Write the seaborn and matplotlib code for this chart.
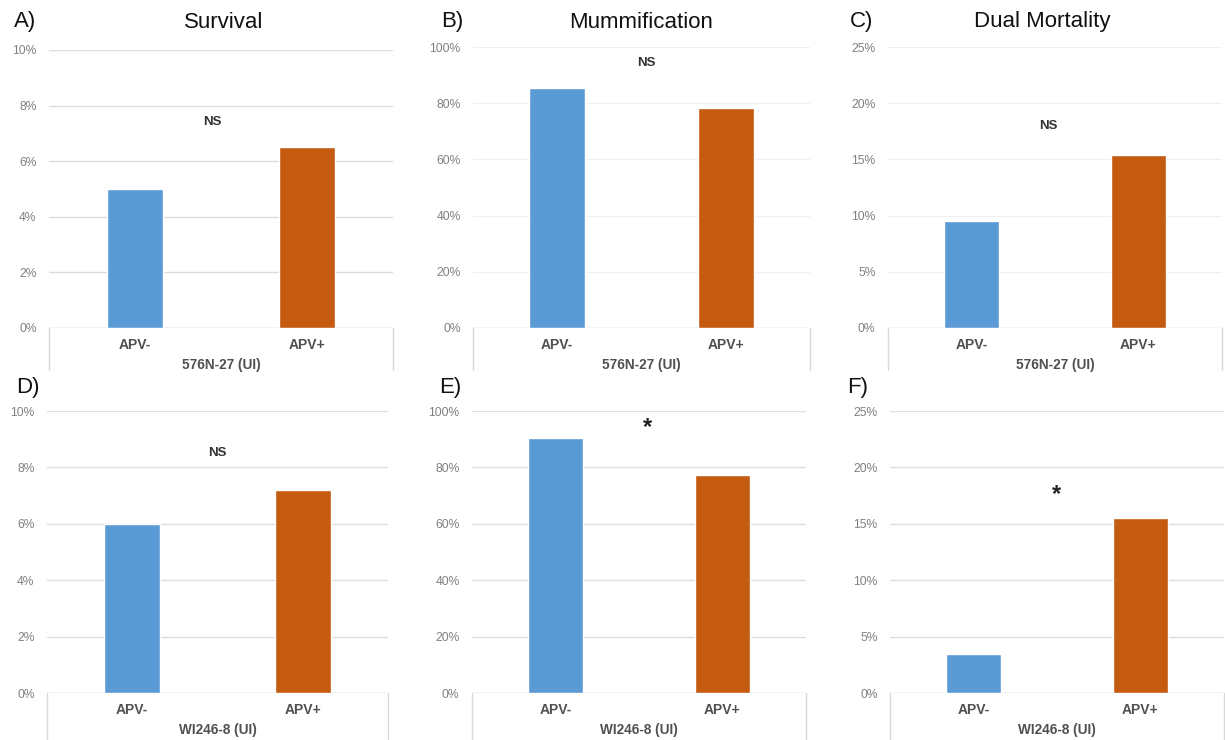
import matplotlib
matplotlib.use("Agg")
import matplotlib.pyplot as plt
import seaborn as sns
import pandas as pd

sns.set_theme(style="white")
plt.rcParams['font.family'] = ['Liberation Sans', 'DejaVu Sans']

categories = ["APV-", "APV+"]
survival_576 = [5.0, 6.5]
mumm_576 = [85.5, 78.2]
dual_576 = [9.5, 15.4]
survival_wi = [6.0, 7.2]
mumm_wi = [90.4, 77.3]
dual_wi = [3.5, 15.5]

titles = ["Survival", "Mummification", "Dual Mortality"]
panel_letters = ["A)", "B)", "C)", "D)", "E)", "F)"]
groups = ["576N-27 (UI)", "WI246-8 (UI)"]
signif = ["NS", "NS", "NS", "NS", "*", "*"]
ymax = [10, 100, 25, 10, 100, 25]
ystep = [2, 20, 5, 2, 20, 5]

W, H = 1225, 740
fig = plt.figure(figsize=(W / 100, H / 100), dpi=100)

# pixel boxes: left, right, top, bottom
boxes = [
    (49, 393, 50, 328), (473, 810, 47, 328), (888, 1222, 47, 328),
    (47, 388, 411, 693), (472, 806, 411, 693), (890, 1224, 411, 693),
]
values = [survival_576, mumm_576, dual_576, survival_wi, mumm_wi, dual_wi]
sig_y = [7.4, 94.3, 18.0, 8.5, 94.3, 17.6]
sig_x = [0.45, 0.53, 0.46, 0.5, 0.55, 0.5]
letter_pos = [(25, 22), (452, 22), (862, 22), (28, 388), (450, 388), (858, 388)]
title_x = [224, 641, 1042]
grid_colors = ["#DDDDDD", "#F0F0F0", "#F0F0F0", "#DDDDDD", "#DDDDDD", "#DDDDDD"]

blue = "#5B9BD5"
orange = "#C55A11"
box_c = "#D9D9D9"

for i, (l, r, t, b) in enumerate(boxes):
    ax = fig.add_axes([l / W, 1 - b / H, (r - l) / W, (b - t) / H])
    df = pd.DataFrame({"cat": categories, "val": values[i]})
    sns.barplot(data=df, x="cat", y="val", hue="cat", palette=[blue, orange],
                width=0.33, legend=False, ax=ax, saturation=1)
    ax.set_xlim(-0.5, 1.5)
    ax.set_ylim(0, ymax[i])
    ticks = list(range(0, ymax[i] + 1, ystep[i]))
    ax.set_yticks(ticks)
    ax.set_yticklabels([f"{v}%" for v in ticks])
    ax.set_axisbelow(True)
    ax.yaxis.grid(True, color=grid_colors[i], lw=1)
    for s in ax.spines.values():
        s.set_visible(False)
    ax.axhline(0, color=box_c, lw=1, zorder=0)
    ax.tick_params(axis="y", length=0, pad=9, labelsize=8.7, labelcolor="#808080")
    ax.tick_params(axis="x", length=0, pad=7, labelsize=10, labelcolor="#505050")
    for lab in ax.get_xticklabels():
        lab.set_fontweight("bold")
    ax.set_xlabel("")
    ax.set_ylabel("")
    hpx = b - t
    depth = (47 if i >= 3 else 42) / hpx
    for xx in (0, 1):
        ax.plot([xx, xx], [0, -depth], transform=ax.transAxes, color=box_c,
                lw=1, clip_on=False)
    ax.text(0.5, -37 / hpx, groups[i // 3], transform=ax.transAxes, ha="center",
            va="center", fontsize=9.8, fontweight="bold", color="#505050")
    if signif[i] == "*":
        ax.text(sig_x[i], sig_y[i], "*", ha="center", va="center", fontsize=17,
                fontweight="bold", color="#222222")
    else:
        ax.text(sig_x[i], sig_y[i], "NS", ha="center", va="center", fontsize=9.5,
                fontweight="bold", color="#333333")
    lx, ly = letter_pos[i]
    fig.text(lx / W, 1 - ly / H, panel_letters[i], ha="center", va="center",
             fontsize=16, color="#111111")
    if i < 3:
        fig.text(title_x[i] / W, 1 - 22 / H, titles[i], ha="center", va="center",
                 fontsize=16, color="#111111")

fig.savefig("out.png", dpi=100)
